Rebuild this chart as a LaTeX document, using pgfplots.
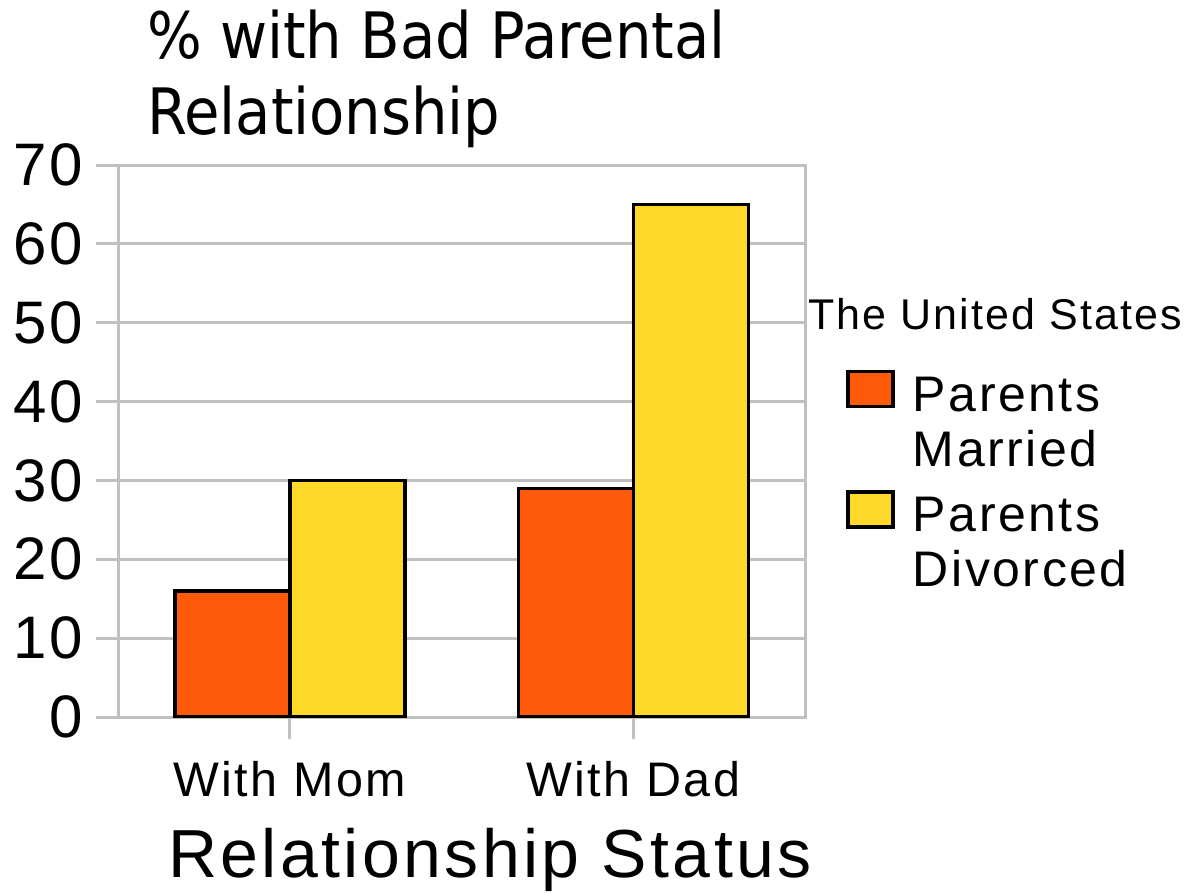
\documentclass[border=0pt]{standalone}
\usepackage{pgfplots}
\pgfplotsset{compat=1.18}
\usepackage{fontspec}
\setmainfont{Liberation Sans}[LetterSpace=5]
\newfontfamily\titlefont{DejaVu Sans Condensed}
\definecolor{married}{RGB}{255,90,10}
\definecolor{divorced}{RGB}{255,217,42}
\definecolor{gridgray}{RGB}{192,192,192}
\begin{document}
\begin{tikzpicture}[x=1pt,y=1pt]
\path[use as bounding box] (0,0) rectangle (1185,892);
\begin{axis}[
  at={(118pt,175pt)}, anchor=south west,
  scale only axis, width=687pt, height=552pt,
  ymin=0, ymax=70, ytick={0,10,...,70},
  xmin=-0.5, xmax=1.5, xtick={0,1}, xticklabels={With Mom, With Dad},
  ybar=0pt, bar width=115pt,
  axis line style={gridgray, line width=3pt},
  ymajorgrids, grid style={gridgray, line width=3pt},
  major tick length=22pt, tick align=outside,
  major tick style={gridgray, line width=3pt},
  xtick pos=bottom, ytick pos=left,
  /pgf/number format/assume math mode=true,
  yticklabel style={font=\fontsize{60}{66}\selectfont, inner sep=13pt},
  xticklabel style={font=\fontsize{48.5}{54}\selectfont, inner sep=0pt, yshift=-22pt},
  legend style={at={(axis description cs:1.06,0.629)}, anchor=north west,
    draw=none, fill=none, inner sep=0pt, row sep=22pt, column sep=0pt,
    nodes={inner sep=0pt, align=left, font=\fontsize{50}{55}\selectfont}},
  legend cell align=left,
]
\addplot[fill=married, draw=black, line width=3.5pt, bar shift=-57.5pt,
  legend image code/.code={\draw[fill=married, draw=black, line width=3.5pt] (0pt,16pt) rectangle (45pt,51pt); \path (63pt,16pt);}]
  coordinates {(0,16) (1,29)};
\addplot[fill=divorced, draw=black, line width=3.5pt, bar shift=57.5pt,
  legend image code/.code={\draw[fill=divorced, draw=black, line width=3.5pt] (0pt,16pt) rectangle (45pt,51pt); \path (63pt,16pt);}]
  coordinates {(0,30) (1,65)};
\legend{Parents\\Married, Parents\\Divorced}
\end{axis}
\node[anchor=base west, inner sep=0pt, font=\titlefont\fontsize{64}{75}\selectfont] at (147,833) {\% with Bad Parental};
\node[anchor=base west, inner sep=0pt, font=\titlefont\fontsize{64}{75}\selectfont] at (147,757) {Relationship};
\node[anchor=base west, inner sep=0pt, font=\fontsize{43}{50}\selectfont] at (808,562) {The United States};
\node[anchor=base, inner sep=0pt, font=\fontsize{68}{76}\selectfont] at (490,15) {Relationship Status};
\end{tikzpicture}
\end{document}
